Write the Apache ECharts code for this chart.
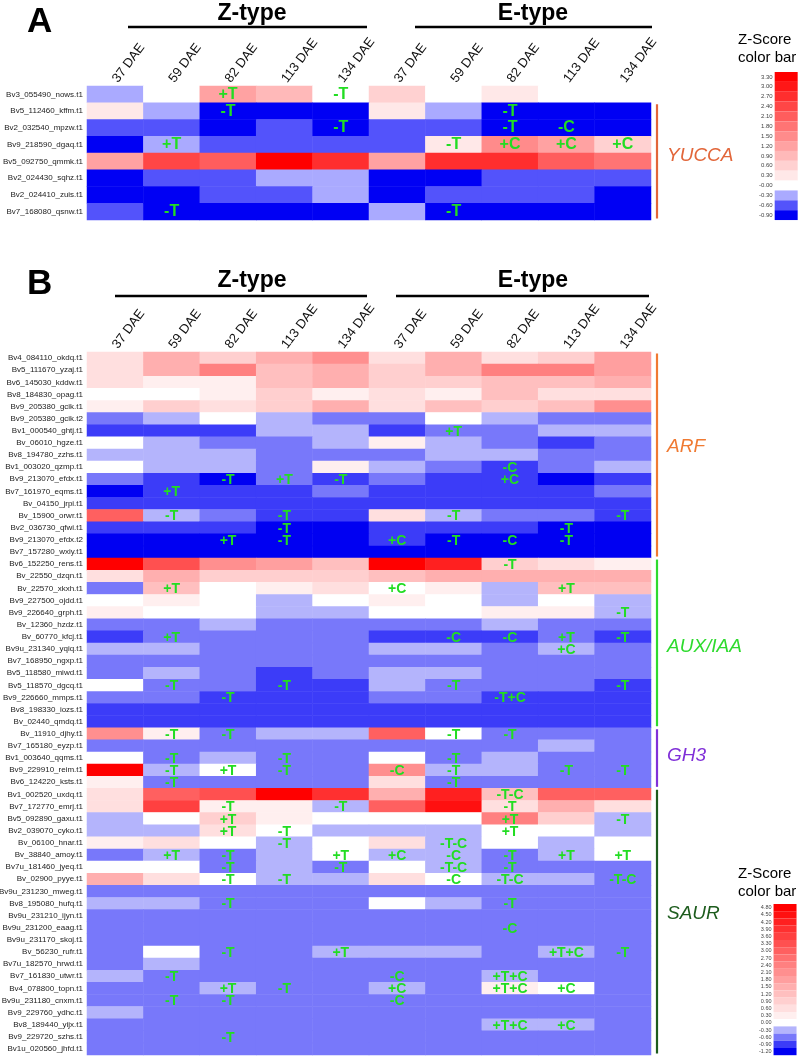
<!DOCTYPE html>
<html><head><meta charset="utf-8">
<script src="https://cdn.jsdelivr.net/npm/echarts@6/dist/echarts.min.js"></script>
<style>html,body{margin:0;padding:0;background:#fff}#c{width:800px;height:1056px}</style>
</head><body><div id="c"></div>
<script>
// ---------- DATA ----------
const colKeys = ['Z37','Z59','Z82','Z113','Z134','E37','E59','E82','E113','E134'];
const tickLabels = ['37 DAE','59 DAE','82 DAE','113 DAE','134 DAE','37 DAE','59 DAE','82 DAE','113 DAE','134 DAE'];

// Panel A (YUCCA and reference row)
const rowsA = ['Bv3_055490_nows.t1','Bv5_112460_kffm.t1','Bv2_032540_mpzw.t1','Bv9_218590_dgaq.t1','Bv5_092750_qmmk.t1','Bv2_024430_sqhz.t1','Bv2_024410_zuis.t1','Bv7_168080_qsnw.t1'];
const valuesA = [
  [-0.3, 0, 1.2, 0.9, 0, 0.6, 0, 0.3, 0, 0],
  [0.3, -0.3, -0.9, -0.9, -0.9, 0.3, -0.3, -0.9, -0.9, -0.9],
  [-0.6, -0.6, -0.9, -0.6, -0.9, -0.6, -0.6, -0.9, -0.9, -0.9],
  [-0.9, -0.3, -0.6, -0.6, -0.6, -0.6, 0.3, 1.5, 1.2, 0.6],
  [1.2, 2.4, 2.1, 3.3, 2.7, 1.2, 2.7, 2.7, 2.1, 1.8],
  [-0.9, -0.6, -0.6, -0.3, -0.3, -0.9, -0.9, -0.6, -0.6, -0.6],
  [-0.9, -0.9, -0.6, -0.6, -0.3, -0.9, -0.6, -0.6, -0.6, -0.9],
  [-0.6, -0.9, -0.9, -0.9, -0.9, -0.3, -0.9, -0.9, -0.9, -0.9]
];
const annotA = [
  ['Bv3_055490_nows.t1','Z82','+T'],['Bv3_055490_nows.t1','Z134','-T'],
  ['Bv5_112460_kffm.t1','Z82','-T'],['Bv5_112460_kffm.t1','E82','-T'],
  ['Bv2_032540_mpzw.t1','Z134','-T'],['Bv2_032540_mpzw.t1','E82','-T'],['Bv2_032540_mpzw.t1','E113','-C'],
  ['Bv9_218590_dgaq.t1','Z59','+T'],['Bv9_218590_dgaq.t1','E59','-T'],['Bv9_218590_dgaq.t1','E82','+C'],['Bv9_218590_dgaq.t1','E113','+C'],['Bv9_218590_dgaq.t1','E134','+C'],
  ['Bv7_168080_qsnw.t1','Z59','-T'],['Bv7_168080_qsnw.t1','E59','-T']
];
const levelsA = [-0.9,-0.6,-0.3,0,0.3,0.6,0.9,1.2,1.5,1.8,2.1,2.4,2.7,3.0,3.3];

// Panel B
const arfRows = ['Bv4_084110_okdq.t1','Bv5_111670_yzaj.t1','Bv6_145030_kddw.t1','Bv8_184830_opag.t1','Bv9_205380_gcik.t1','Bv9_205380_gcik.t2','Bv1_000540_ghtj.t1','Bv_06010_hgze.t1','Bv8_194780_zzhs.t1','Bv1_003020_qzmp.t1','Bv9_213070_efdx.t1','Bv7_161970_eqms.t1','Bv_04150_jrpi.t1','Bv_15900_orwr.t1','Bv2_036730_qfwi.t1','Bv9_213070_efdx.t2','Bv7_157280_wxiy.t1'];
const arfValues = [
  [0.6, 1.5, 0.9, 1.5, 2.1, 0.6, 1.5, 0.6, 0.9, 1.8],
  [0.6, 1.5, 2.4, 1.2, 1.5, 0.9, 1.5, 2.4, 2.4, 1.8],
  [0.6, 0.3, 0.3, 1.2, 1.5, 0.9, 0.9, 1.2, 1.2, 1.5],
  [0, 0, 0.3, 0.9, 0.3, 0.6, 0.3, 1.2, 0.6, 0.6],
  [0.3, 0.9, 0.6, 0.9, 1.5, 0.6, 1.2, 0.9, 1.2, 2.1],
  [-0.6, -0.3, 0, -0.3, -0.6, -0.6, 0, -0.3, -0.6, -0.6],
  [-0.9, -0.9, -0.9, -0.3, -0.3, -0.9, -0.6, -0.6, -0.3, -0.3],
  [0, -0.3, -0.6, -0.6, -0.3, 0.3, -0.3, -0.6, -0.9, -0.6],
  [-0.3, -0.3, -0.3, -0.6, -0.6, -0.6, -0.3, -0.3, -0.6, -0.6],
  [0, -0.3, -0.3, -0.6, 0.3, -0.3, -0.6, -0.9, -0.6, -0.3],
  [-0.6, -0.9, -1.2, -0.6, -0.9, -0.6, -0.9, -0.9, -1.2, -0.9],
  [-1.2, -0.9, -0.9, -0.9, -0.6, -0.9, -0.9, -0.9, -0.9, -0.6],
  [-0.9, -0.9, -0.9, -0.9, -0.9, -0.9, -0.9, -0.9, -0.9, -0.9],
  [3.0, -0.3, -0.6, -0.9, -0.9, 0.6, -0.3, -0.6, -0.6, -0.9],
  [-0.9, -0.9, -0.9, -1.2, -1.2, -0.9, -0.9, -0.9, -1.2, -1.2],
  [-1.2, -1.2, -1.2, -1.2, -1.2, -0.9, -1.2, -1.2, -1.2, -1.2],
  [-1.2, -1.2, -1.2, -1.2, -1.2, -1.2, -1.2, -1.2, -1.2, -1.2]
];
const auxRows = ['Bv6_152250_rens.t1','Bv_22550_dzqn.t1','Bv_22570_xkxh.t1','Bv9_227500_ojdd.t1','Bv9_226640_grph.t1','Bv_12360_hzdz.t1','Bv_60770_kfcj.t1','Bv9u_231340_yqiq.t1','Bv7_168950_ngxp.t1','Bv5_118580_miwd.t1','Bv5_118570_dgcq.t1','Bv9_226660_mmps.t1','Bv8_198330_iozs.t1','Bv_02440_qmdq.t1'];
const auxValues = [
  [4.8, 3.3, 2.1, 1.8, 1.2, 4.8, 4.2, 0.9, 0.6, 0.3],
  [0.6, 1.5, 0.9, 0.9, 0.9, 1.2, 1.5, 1.5, 1.5, 1.5],
  [-0.6, 1.2, 0, 0.3, 0.6, 0, 0.3, -0.3, 1.2, 1.2],
  [0, 0.3, 0, -0.3, 0, 0.3, 0, -0.3, 0, -0.3],
  [0.3, 0, 0, -0.3, -0.3, 0, 0, 0.3, 0.3, -0.3],
  [-0.6, -0.6, -0.3, -0.6, -0.6, -0.6, -0.6, -0.3, -0.6, -0.6],
  [-0.9, -0.6, -0.6, -0.6, -0.6, -0.9, -0.9, -0.9, -0.6, -0.9],
  [-0.3, -0.3, -0.6, -0.6, -0.6, -0.3, -0.3, -0.6, -0.3, -0.6],
  [-0.6, -0.6, -0.6, -0.6, -0.6, -0.6, -0.6, -0.6, -0.6, -0.6],
  [-0.6, -0.3, -0.6, -0.9, -0.6, -0.3, -0.3, -0.6, -0.6, -0.6],
  [0, -0.6, -0.6, -0.9, -0.9, -0.3, -0.6, -0.6, -0.6, -0.9],
  [-0.6, -0.6, -0.9, -0.9, -0.9, -0.6, -0.6, -0.9, -0.9, -0.9],
  [-0.9, -0.9, -0.9, -0.9, -0.9, -0.9, -0.9, -0.9, -0.9, -0.9],
  [-0.9, -0.9, -0.9, -0.9, -0.9, -0.9, -0.9, -0.9, -0.9, -0.9]
];
const gh3Rows = ['Bv_11910_djhy.t1','Bv7_165180_eyzp.t1','Bv1_003640_qqms.t1','Bv9_229910_reim.t1','Bv6_124220_ksts.t1'];
const gh3Values = [
  [2.1, 0.3, -0.6, -0.3, -0.3, 3.0, 0, -0.6, -0.6, -0.6],
  [-0.6, -0.6, -0.6, -0.6, -0.6, -0.6, -0.6, -0.6, -0.3, -0.6],
  [0, -0.6, -0.3, -0.6, -0.6, 0, -0.6, -0.3, -0.6, -0.6],
  [4.8, -0.3, 0, -0.6, -0.6, 2.1, -0.3, -0.3, -0.6, -0.6],
  [0.3, -0.6, -0.6, -0.6, -0.6, 0.6, -0.6, -0.6, -0.6, -0.6]
];
const saurRows = ['Bv1_002520_uxdq.t1','Bv7_172770_emrj.t1','Bv5_092890_gaxu.t1','Bv2_039070_cyko.t1','Bv_06100_hnar.t1','Bv_38840_amoy.t1','Bv7u_181460_jyeq.t1','Bv_02900_pyye.t1','Bv9u_231230_mweg.t1','Bv8_195080_hufq.t1','Bv9u_231210_ijyn.t1','Bv9u_231200_eaag.t1','Bv9u_231170_skoj.t1','Bv_56230_rufr.t1','Bv7u_182570_hrwd.t1','Bv7_161830_utwr.t1','Bv4_078800_topn.t1','Bv9u_231180_cnxm.t1','Bv9_229760_ydhc.t1','Bv8_189440_yijx.t1','Bv9_229720_szhs.t1','Bv1u_020560_jhfd.t1'];
const saurValues = [
  [0.6, 3.0, 3.3, 4.8, 3.9, 1.5, 4.2, 1.2, 3.0, 3.0],
  [0.6, 3.6, 0.3, 0.3, -0.3, 3.0, 4.5, 0.6, 1.5, 0.6],
  [-0.3, 0, 0.9, 0.3, 0, 0, 0, 2.4, 0.9, -0.3],
  [-0.3, -0.3, 0.6, 0, -0.3, -0.3, -0.3, 0, 0, -0.3],
  [0.3, 0.6, 0, -0.3, 0, 0.6, -0.3, 0, -0.3, 0],
  [-0.6, -0.3, -0.6, -0.3, 0, -0.3, -0.3, -0.6, -0.3, 0],
  [0, 0, -0.6, -0.3, -0.6, 0, -0.3, -0.6, -0.6, -0.6],
  [1.5, 0.6, 0, -0.3, -0.3, 0.6, 0, -0.3, -0.3, -0.6],
  [-0.6, -0.6, -0.6, -0.6, -0.6, -0.6, -0.6, -0.6, -0.6, -0.6],
  [-0.3, -0.3, -0.6, -0.6, -0.6, 0, -0.3, -0.6, -0.6, -0.6],
  [-0.6, -0.6, -0.6, -0.6, -0.6, -0.6, -0.6, -0.6, -0.6, -0.6],
  [-0.6, -0.6, -0.6, -0.6, -0.6, -0.6, -0.6, -0.6, -0.6, -0.6],
  [-0.6, -0.6, -0.6, -0.6, -0.6, -0.6, -0.6, -0.6, -0.6, -0.6],
  [-0.6, 0, -0.6, -0.6, -0.3, -0.3, -0.3, -0.6, -0.3, -0.6],
  [-0.6, -0.3, -0.6, -0.6, -0.6, -0.6, -0.6, -0.6, -0.6, -0.6],
  [-0.3, -0.6, -0.6, -0.6, -0.6, -0.6, -0.6, -0.3, -0.6, -0.6],
  [-0.6, -0.6, -0.3, -0.6, -0.6, -0.3, -0.6, 0.3, 0, -0.6],
  [-0.6, -0.6, -0.6, -0.6, -0.6, -0.6, -0.6, -0.6, -0.6, -0.6],
  [-0.3, -0.6, -0.6, -0.6, -0.6, -0.6, -0.6, -0.6, -0.6, -0.6],
  [-0.6, -0.6, -0.6, -0.6, -0.6, -0.6, -0.6, -0.3, -0.3, -0.6],
  [-0.6, -0.6, -0.6, -0.6, -0.6, -0.6, -0.6, -0.6, -0.6, -0.6],
  [-0.6, -0.6, -0.6, -0.6, -0.6, -0.6, -0.6, -0.6, -0.6, -0.6]
];
const annotB = [
  ['Bv1_000540_ghtj.t1','E59','+T'],
  ['Bv1_003020_qzmp.t1','E82','-C'],
  ['Bv9_213070_efdx.t1','Z82','-T'],['Bv9_213070_efdx.t1','Z113','+T'],['Bv9_213070_efdx.t1','Z134','-T'],['Bv9_213070_efdx.t1','E82','+C'],
  ['Bv7_161970_eqms.t1','Z59','+T'],
  ['Bv_15900_orwr.t1','Z59','-T'],['Bv_15900_orwr.t1','Z113','-T'],['Bv_15900_orwr.t1','E59','-T'],['Bv_15900_orwr.t1','E134','-T'],
  ['Bv2_036730_qfwi.t1','Z113','-T'],['Bv2_036730_qfwi.t1','E113','-T'],
  ['Bv9_213070_efdx.t2','Z82','+T'],['Bv9_213070_efdx.t2','Z113','-T'],['Bv9_213070_efdx.t2','E37','+C'],['Bv9_213070_efdx.t2','E59','-T'],['Bv9_213070_efdx.t2','E82','-C'],['Bv9_213070_efdx.t2','E113','-T'],
  ['Bv6_152250_rens.t1','E82','-T'],
  ['Bv_22570_xkxh.t1','Z59','+T'],['Bv_22570_xkxh.t1','E37','+C'],['Bv_22570_xkxh.t1','E113','+T'],
  ['Bv9_226640_grph.t1','E134','-T'],
  ['Bv_60770_kfcj.t1','Z59','+T'],['Bv_60770_kfcj.t1','E59','-C'],['Bv_60770_kfcj.t1','E82','-C'],['Bv_60770_kfcj.t1','E113','+T'],['Bv_60770_kfcj.t1','E134','-T'],
  ['Bv9u_231340_yqiq.t1','E113','+C'],
  ['Bv5_118570_dgcq.t1','Z59','-T'],['Bv5_118570_dgcq.t1','Z113','-T'],['Bv5_118570_dgcq.t1','E59','-T'],['Bv5_118570_dgcq.t1','E134','-T'],
  ['Bv9_226660_mmps.t1','Z82','-T'],['Bv9_226660_mmps.t1','E82','-T+C'],
  ['Bv_11910_djhy.t1','Z59','-T'],['Bv_11910_djhy.t1','Z82','-T'],['Bv_11910_djhy.t1','E59','-T'],['Bv_11910_djhy.t1','E82','-T'],
  ['Bv1_003640_qqms.t1','Z59','-T'],['Bv1_003640_qqms.t1','Z113','-T'],['Bv1_003640_qqms.t1','E59','-T'],
  ['Bv9_229910_reim.t1','Z59','-T'],['Bv9_229910_reim.t1','Z82','+T'],['Bv9_229910_reim.t1','Z113','-T'],['Bv9_229910_reim.t1','E37','-C'],['Bv9_229910_reim.t1','E59','-T'],['Bv9_229910_reim.t1','E113','-T'],['Bv9_229910_reim.t1','E134','-T'],
  ['Bv6_124220_ksts.t1','Z59','-T'],['Bv6_124220_ksts.t1','E59','-T'],
  ['Bv1_002520_uxdq.t1','E82','-T-C'],
  ['Bv7_172770_emrj.t1','Z82','-T'],['Bv7_172770_emrj.t1','Z134','-T'],['Bv7_172770_emrj.t1','E82','-T'],
  ['Bv5_092890_gaxu.t1','Z82','+T'],['Bv5_092890_gaxu.t1','E82','+T'],['Bv5_092890_gaxu.t1','E134','-T'],
  ['Bv2_039070_cyko.t1','Z82','+T'],['Bv2_039070_cyko.t1','Z113','-T'],['Bv2_039070_cyko.t1','E82','+T'],
  ['Bv_06100_hnar.t1','Z113','-T'],['Bv_06100_hnar.t1','E59','-T-C'],
  ['Bv_38840_amoy.t1','Z59','+T'],['Bv_38840_amoy.t1','Z82','-T'],['Bv_38840_amoy.t1','Z134','+T'],['Bv_38840_amoy.t1','E37','+C'],['Bv_38840_amoy.t1','E59','-C'],['Bv_38840_amoy.t1','E82','-T'],['Bv_38840_amoy.t1','E113','+T'],['Bv_38840_amoy.t1','E134','+T'],
  ['Bv7u_181460_jyeq.t1','Z82','-T'],['Bv7u_181460_jyeq.t1','Z134','-T'],['Bv7u_181460_jyeq.t1','E59','-T-C'],['Bv7u_181460_jyeq.t1','E82','-T'],
  ['Bv_02900_pyye.t1','Z82','-T'],['Bv_02900_pyye.t1','Z113','-T'],['Bv_02900_pyye.t1','E59','-C'],['Bv_02900_pyye.t1','E82','-T-C'],['Bv_02900_pyye.t1','E134','-T-C'],
  ['Bv8_195080_hufq.t1','Z82','-T'],['Bv8_195080_hufq.t1','E82','-T'],
  ['Bv9u_231200_eaag.t1','E82','-C'],
  ['Bv_56230_rufr.t1','Z82','-T'],['Bv_56230_rufr.t1','Z134','+T'],['Bv_56230_rufr.t1','E113','+T+C'],['Bv_56230_rufr.t1','E134','-T'],
  ['Bv7_161830_utwr.t1','Z59','-T'],['Bv7_161830_utwr.t1','E37','-C'],['Bv7_161830_utwr.t1','E82','+T+C'],
  ['Bv4_078800_topn.t1','Z82','+T'],['Bv4_078800_topn.t1','Z113','-T'],['Bv4_078800_topn.t1','E37','+C'],['Bv4_078800_topn.t1','E82','+T+C'],['Bv4_078800_topn.t1','E113','+C'],
  ['Bv9u_231180_cnxm.t1','Z59','-T'],['Bv9u_231180_cnxm.t1','Z82','-T'],['Bv9u_231180_cnxm.t1','E37','-C'],
  ['Bv8_189440_yijx.t1','E82','+T+C'],['Bv8_189440_yijx.t1','E113','+C'],
  ['Bv9_229720_szhs.t1','Z82','-T']
];
const levelsB = [-1.2,-0.9,-0.6,-0.3,0,0.3,0.6,0.9,1.2,1.5,1.8,2.1,2.4,2.7,3.0,3.3,3.6,3.9,4.2,4.5,4.8];
const families = [
  {name:'ARF', rows: arfRows, color:'#f07a32'},
  {name:'AUX/IAA', rows: auxRows, color:'#2edb2e'},
  {name:'GH3', rows: gh3Rows, color:'#8030d8'},
  {name:'SAUR', rows: saurRows, color:'#1d5c1d'}
];

// ---------- BUILD ----------
const rowsB = arfRows.concat(auxRows, gh3Rows, saurRows);
const valuesB = arfValues.concat(auxValues, gh3Values, saurValues);

function buildData(rows, values, annots){
  const amap = {};
  annots.forEach(a => { amap[a[0] + '|' + a[1]] = a[2]; });
  const out = [];
  rows.forEach((r, ri) => {
    values[ri].forEach((v, ci) => {
      out.push({value: [ci, ri, v], ann: amap[r + '|' + colKeys[ci]] || ''});
    });
  });
  return out;
}
function buildPieces(levels, blues, zeroLabel){
  const max = levels[levels.length - 1];
  return levels.map((v, i) => {
    let color;
    if (v < -0.01) color = blues[v.toFixed(1)];
    else if (Math.abs(v) < 0.01) color = '#ffffff';
    else { const g = Math.round(255 * (1 - v / max)); color = 'rgb(255,' + g + ',' + g + ')'; }
    const p = {color: color, label: Math.abs(v) < 0.01 ? zeroLabel : v.toFixed(2)};
    if (i > 0) p.gt = v - 0.15;
    if (i < levels.length - 1) p.lte = v + 0.15;
    return p;
  });
}
const bluesA = {'-0.3':'#aaaaff','-0.6':'#5353fb','-0.9':'#0000f4'};
const bluesB = {'-0.3':'#b4b4fc','-0.6':'#7878fa','-0.9':'#3c3cf8','-1.2':'#0000f2'};

const xAxisBase = (gi) => ({
  gridIndex: gi, type: 'category', data: colKeys, position: 'top',
  axisLine: {show: false}, axisTick: {show: false}, splitLine: {show: false},
  axisLabel: {rotate: -53, margin: 5, fontSize: 13, color: '#111', fontFamily: 'Liberation Sans, Arial',
    formatter: (v, idx) => tickLabels[idx]}
});
const yAxisBase = (gi, rows) => ({
  gridIndex: gi, type: 'category', data: rows, inverse: true,
  axisLine: {show: false}, axisTick: {show: false}, splitLine: {show: false},
  axisLabel: {fontSize: 8, margin: 4, color: '#222', fontFamily: 'Liberation Sans, Arial'}
});

const chart = echarts.init(document.getElementById('c'), null, {renderer: 'canvas'});
const option = {
  animation: false,
  backgroundColor: '#ffffff',
  grid: [
    {left: 87, top: 86, width: 564, height: 134, containLabel: false, outerBoundsMode: 'none'},
    {left: 87, top: 352, width: 564, height: 703, containLabel: false, outerBoundsMode: 'none'}
  ],
  xAxis: [xAxisBase(0), xAxisBase(1)],
  yAxis: [yAxisBase(0, rowsA), yAxisBase(1, rowsB)],
  visualMap: [
    {type: 'piecewise', seriesIndex: 0, pieces: buildPieces(levelsA, bluesA, '-0.00'),
     orient: 'vertical', left: 759, top: 72, itemWidth: 23, itemHeight: 9.87, itemGap: 0, textGap: 2,
     padding: 0, itemSymbol: 'rect', selectedMode: false, showLabel: true,
     textStyle: {fontSize: 6, color: '#444', fontFamily: 'Liberation Sans, Arial'}},
    {type: 'piecewise', seriesIndex: 1, pieces: buildPieces(levelsB, bluesB, '0.00'),
     orient: 'vertical', left: 759, top: 904, itemWidth: 23, itemHeight: 7.2, itemGap: 0, textGap: 2,
     padding: 0, itemSymbol: 'rect', selectedMode: false, showLabel: true,
     textStyle: {fontSize: 5.5, color: '#444', fontFamily: 'Liberation Sans, Arial'}}
  ],
  series: [
    {type: 'heatmap', xAxisIndex: 0, yAxisIndex: 0, data: buildData(rowsA, valuesA, annotA),
     itemStyle: {borderWidth: 0},
     label: {show: true, formatter: p => p.data.ann, color: '#22dd22', fontSize: 16, fontWeight: 'bold', fontFamily: 'Liberation Sans, Arial'},
     emphasis: {disabled: true}},
    {type: 'heatmap', xAxisIndex: 1, yAxisIndex: 1, data: buildData(rowsB, valuesB, annotB),
     itemStyle: {borderWidth: 0},
     label: {show: true, formatter: p => p.data.ann, color: '#22dd22', fontSize: 14, fontWeight: 'bold', offset: [0, 1], fontFamily: 'Liberation Sans, Arial'},
     emphasis: {disabled: true}}
  ]
};
chart.setOption(option);

// ---------- DECORATIONS ----------
function txt(x, y, s, opt){
  return {type: 'text', x: x, y: y, silent: true, style: Object.assign({text: s, fill: '#000', fontFamily: 'Liberation Sans, Arial'}, opt)};
}
function line(x1, y1, x2, y2, color, w){
  return {type: 'line', silent: true, shape: {x1, y1, x2, y2}, style: {stroke: color, lineWidth: w}};
}
const g = [];
g.push(txt(27, 22, 'A', {fontSize: 35, fontWeight: 'bold', verticalAlign: 'middle'}));
g.push(txt(27, 284, 'B', {fontSize: 35, fontWeight: 'bold', verticalAlign: 'middle'}));
g.push(txt(252, 14, 'Z-type', {fontSize: 23, fontWeight: 'bold', align: 'center', verticalAlign: 'middle'}));
g.push(txt(533, 14, 'E-type', {fontSize: 23, fontWeight: 'bold', align: 'center', verticalAlign: 'middle'}));
g.push(line(128, 27, 367, 27, '#000', 2.5));
g.push(line(415, 27, 652, 27, '#000', 2.5));
g.push(txt(252, 281, 'Z-type', {fontSize: 23, fontWeight: 'bold', align: 'center', verticalAlign: 'middle'}));
g.push(txt(533, 281, 'E-type', {fontSize: 23, fontWeight: 'bold', align: 'center', verticalAlign: 'middle'}));
g.push(line(115, 296, 367, 296, '#000', 2.5));
g.push(line(396, 296, 649, 296, '#000', 2.5));
g.push(txt(738, 31, 'Z-Score\ncolor bar', {fontSize: 15, lineHeight: 18}));
g.push(txt(738, 865, 'Z-Score\ncolor bar', {fontSize: 15, lineHeight: 18}));

function bracket(axisIdx, rows, first, last, color, label, dy, labelColor){
  const c0 = chart.convertToPixel({yAxisIndex: axisIdx}, rows[0]);
  const c1 = chart.convertToPixel({yAxisIndex: axisIdx}, rows[1]);
  const band = c1 - c0;
  const top = chart.convertToPixel({yAxisIndex: axisIdx}, first) - band / 2 + 1.5;
  const bot = chart.convertToPixel({yAxisIndex: axisIdx}, last) + band / 2 - 1.5;
  g.push(line(657, top, 657, bot, color, 2.2));
  g.push(txt(667, (top + bot) / 2 + dy, label, {fontSize: 19, fontStyle: 'italic', fill: labelColor || color, verticalAlign: 'middle'}));
}
bracket(0, rowsA, rowsA[1], rowsA[rowsA.length - 1], '#e2663a', 'YUCCA', -6);
const dys = [-8, 4, -2, -8];
families.forEach((f, i) => bracket(1, rowsB, f.rows[0], f.rows[f.rows.length - 1], f.color, f.name, dys[i]));
chart.setOption({graphic: {elements: g}});
</script>
</body></html>
